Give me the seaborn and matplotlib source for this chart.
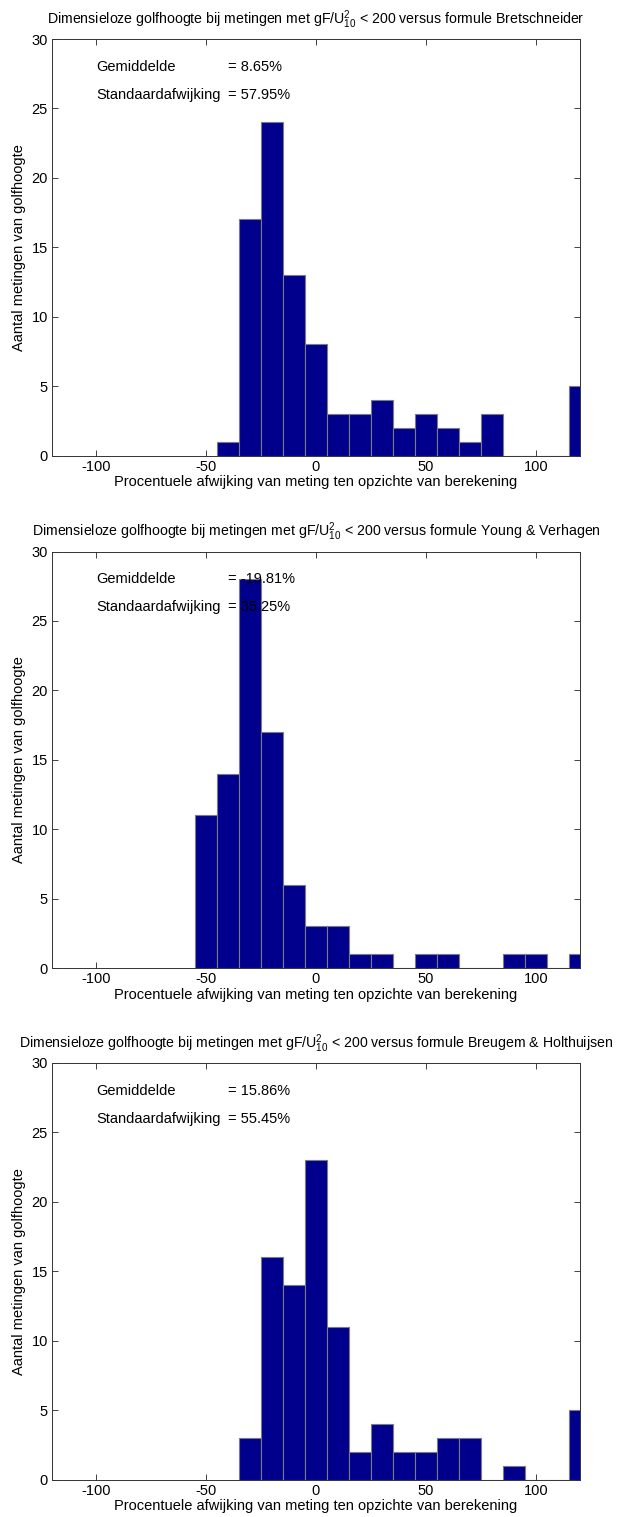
import numpy as np
import pandas as pd
import matplotlib
matplotlib.use("Agg")
import matplotlib.pyplot as plt
import seaborn as sns

# Bin centres (percent deviation) and counts per histogram
centers_bs = [-40, -30, -20, -10, 0, 10, 20, 30, 40, 50, 60, 70, 80, 90, 100, 110, 120]
counts_bs = [1, 17, 24, 13, 8, 3, 3, 4, 2, 3, 2, 1, 3, 0, 0, 0, 5]

centers_yv = [-50, -40, -30, -20, -10, 0, 10, 20, 30, 40, 50, 60, 70, 80, 90, 100, 110, 120]
counts_yv = [11, 14, 28, 17, 6, 3, 3, 1, 1, 0, 1, 1, 0, 0, 1, 1, 0, 1]

centers_bh = [-30, -20, -10, 0, 10, 20, 30, 40, 50, 60, 70, 80, 90, 100, 110, 120]
counts_bh = [3, 16, 14, 23, 11, 2, 4, 2, 2, 3, 3, 0, 1, 0, 0, 5]

formulas = ["Bretschneider", "Young & Verhagen", "Breugem & Holthuijsen"]
means = ["8.65%", "-19.81%", "15.86%"]
stds = ["57.95%", "35.25%", "55.45%"]

xticks = [-100, -50, 0, 50, 100]
yticks = [0, 5, 10, 15, 20, 25, 30]

sns.set_theme(style="ticks")
plt.rcParams["font.family"] = ["Liberation Sans", "DejaVu Sans"]
plt.rcParams["mathtext.fontset"] = "custom"
plt.rcParams["mathtext.rm"] = "Liberation Sans"
plt.rcParams["mathtext.it"] = "Liberation Sans"
plt.rcParams["axes.unicode_minus"] = False
plt.rcParams["text.color"] = "black"
plt.rcParams["axes.labelcolor"] = "black"
plt.rcParams["xtick.color"] = "black"
plt.rcParams["ytick.color"] = "black"
plt.rcParams["xtick.direction"] = "in"
plt.rcParams["ytick.direction"] = "in"
plt.rcParams["xtick.top"] = True
plt.rcParams["ytick.right"] = True

FS = 10.5
FS_TITLE = 10.2

fig = plt.figure(figsize=(6.19, 15.17), dpi=100)
W, H = 619, 1517
left, right = 52, 580
tops = [39, 551.5, 1063]
height = 416.5

datasets = [(centers_bs, counts_bs), (centers_yv, counts_yv), (centers_bh, counts_bh)]

for i, ((centers, counts), formula, m, s) in enumerate(zip(datasets, formulas, means, stds)):
    top = tops[i]
    ax = fig.add_axes([left / W, 1 - (top + height) / H, (right - left) / W, height / H])
    df = pd.DataFrame({"afwijking": centers, "aantal": counts})
    lo, hi = min(centers) - 5, max(centers) + 5
    sns.histplot(data=df, x="afwijking", weights="aantal", binwidth=10, binrange=(lo, hi),
                 ax=ax, color="#00008C", edgecolor="#7a7a8a", linewidth=0.8, alpha=1, zorder=2)
    ax.set_xlim(-120, 120)
    ax.set_ylim(0, 30)
    ax.set_xticks(xticks)
    ax.set_yticks(yticks)
    ax.tick_params(labelsize=FS, length=4, width=0.6, color="#222222", pad=3)
    for sp in ax.spines.values():
        sp.set_linewidth(0.7)
        sp.set_color("#333333")
    ax.set_title("Dimensieloze golfhoogte bij metingen met gF/U$_{10}^{2}$ < 200 versus formule " + formula,
                 fontsize=FS_TITLE, pad=11)
    ax.set_xlabel("Procentuele afwijking van meting ten opzichte van berekening", fontsize=FS, labelpad=1)
    ax.set_ylabel("Aantal metingen van golfhoogte", fontsize=FS, labelpad=4)
    ax.text(-100, 28, "Gemiddelde", fontsize=FS, va="center", zorder=5)
    ax.text(-40, 28, "= " + m, fontsize=FS, va="center", zorder=5)
    ax.text(-100, 26, "Standaardafwijking", fontsize=FS, va="center", zorder=5)
    ax.text(-40, 26, "= " + s, fontsize=FS, va="center", zorder=5)

fig.savefig("out.png", dpi=100)
